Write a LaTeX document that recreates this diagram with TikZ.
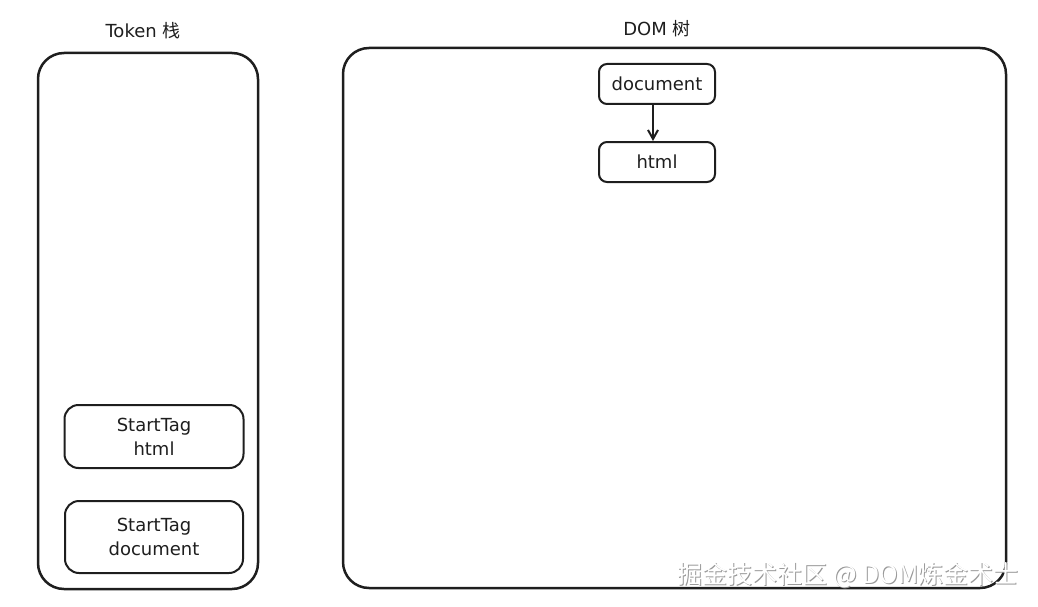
\documentclass[tikz,border=0pt]{standalone}
\usepackage{fontspec}
\setmainfont{DejaVu Sans}
\newfontfamily\cjk{Noto Sans CJK SC}
\usetikzlibrary{positioning,arrows.meta}
\definecolor{ink}{HTML}{1E1E1E}

\begin{document}
\begin{tikzpicture}[x=1pt, y=-1pt,
  panel/.style={rectangle, draw=ink, line width=2.5pt, rounded corners=26pt},
  token/.style={rectangle, draw=ink, line width=2pt, rounded corners=14pt, align=center, font=\fontsize{18}{24}\selectfont, text=ink},
  domnode/.style={rectangle, draw=ink, line width=2pt, rounded corners=8pt, minimum width=116pt, minimum height=40pt, inner sep=0pt, font=\fontsize{18}{20}\selectfont, text=ink},
  title/.style={font=\fontsize{18}{20}\selectfont, text=ink},
  watermark/.style={font=\cjk\fontsize{25}{27}\selectfont},
  arrow/.style={-{Straight Barb[length=9pt, width=10pt]}, line width=2pt, draw=ink},
]
\useasboundingbox (0,0) rectangle (1038,607);

% === Token stack (left) ===
\node[panel, minimum width=220pt, minimum height=536pt] (stack) at (148,321) {};
\node[title] (stacktitle) at (143,31) {Token {\cjk 栈}};
\node[token, minimum width=178pt, minimum height=72pt] (tokdoc) at (154,537) {StartTag\\document};
\node[token, minimum width=179pt, minimum height=63pt, above=31pt of tokdoc] (tokhtml) {StartTag\\html};

% === DOM tree (right) ===
\node[panel, minimum width=663pt, minimum height=540pt] (tree) at (674.5,318) {};
\node[title] (treetitle) at (657,29) {DOM {\cjk 树}};
\node[domnode] (document) at (657,84) {document};
\node[domnode, below=36pt of document] (html) {html};

\draw[arrow] ([xshift=-4pt]document.south) -- ([xshift=-4pt]html.north);

% === Watermark ===
\node[watermark, text=gray!80] (markshadow) at (849.2,576.2) {掘金技术社区 @ DOM炼金术士};
\node[watermark, text=white] (markfront) at (848,575) {掘金技术社区 @ DOM炼金术士};

\end{tikzpicture}
\end{document}
